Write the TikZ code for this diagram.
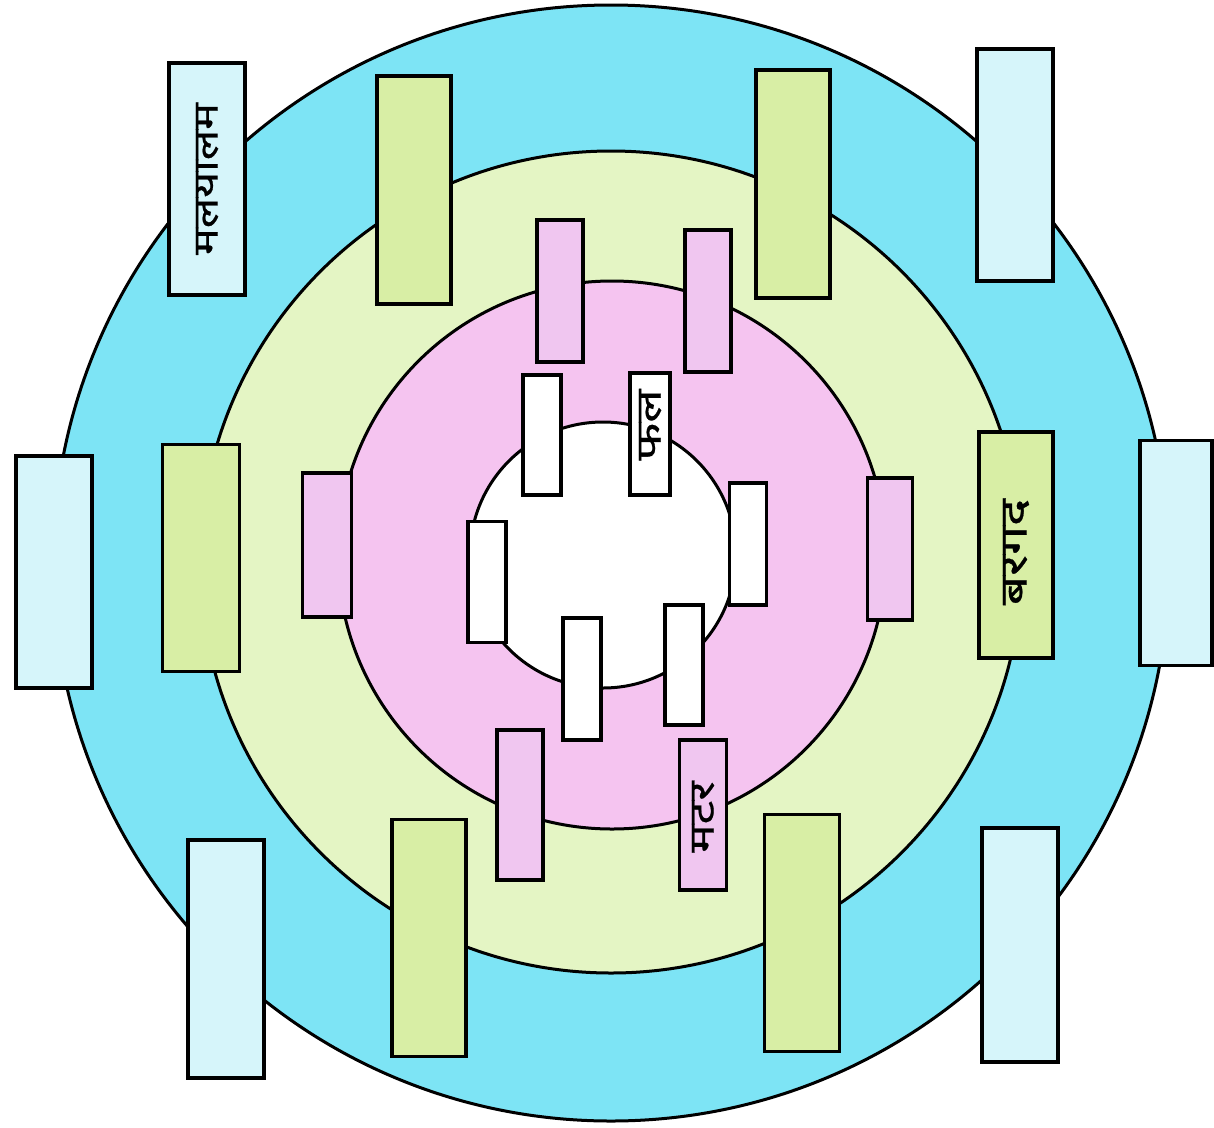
\documentclass[tikz,border=0pt]{standalone}
\usepackage{fontspec}
\newfontfamily\deva[Script=Devanagari,FakeBold=0.6]{Noto Sans}
\definecolor{ringC}{RGB}{125,228,245}
\definecolor{ringG}{RGB}{228,245,196}
\definecolor{ringP}{RGB}{245,196,240}
\definecolor{boxC}{RGB}{214,245,250}
\definecolor{boxG}{RGB}{216,238,165}
\definecolor{boxP}{RGB}{240,198,240}
\tikzset{
  ring/.style={draw=black, line width=3pt},
  tbox/.style={draw=black, line width=3.5pt, inner sep=0pt, rectangle},
  cbox/.style={tbox, fill=boxC, minimum width=76pt, minimum height=232pt},
  gbox/.style={tbox, fill=boxG, minimum width=74pt, minimum height=228pt},
  pbox/.style={tbox, fill=boxP, minimum width=46pt, minimum height=144pt},
  wbox/.style={tbox, fill=white, minimum width=38pt, minimum height=120pt},
  lbl/.style={rotate=90, inner sep=0pt, font=\deva\fontsize{35}{40}\selectfont},
}
\begin{document}
\begin{tikzpicture}[x=1pt,y=-1pt]
\useasboundingbox (0,0) rectangle (1214,1127);
\fill[white] (0,0) rectangle (1214,1127);
% rings
\draw[ring, fill=ringC] (611,563) circle [radius=558pt];
\draw[ring, fill=ringG] (611,562) circle [radius=411pt];
\draw[ring, fill=ringP] (612,555) circle [radius=274pt];
\draw[ring, fill=white] (603,555) circle [radius=133pt];
% cyan boxes
\node[cbox] (c1) at (207,179) {};
\node[cbox] (c2) at (1015,165) {};
\node[cbox] (c3) at (54,572) {};
\node[cbox, minimum width=72pt, minimum height=225pt] (c4) at (1176,553) {};
\node[cbox, minimum height=238pt] (c5) at (226,959) {};
\node[cbox, minimum height=234pt] (c6) at (1020,945) {};
% green boxes
\node[gbox] (g1) at (414,190) {};
\node[gbox] (g2) at (793,184) {};
\node[gbox, minimum width=77pt, minimum height=227pt] (g3) at (201,558) {};
\node[gbox, minimum height=226pt] (g4) at (1016,545) {};
\node[gbox, minimum height=237pt] (g5) at (429,938) {};
\node[gbox, minimum width=75pt, minimum height=237pt] (g6) at (802,933) {};
% pink boxes
\node[pbox, minimum height=142pt] (p1) at (560,291) {};
\node[pbox, minimum height=142pt] (p2) at (708,301) {};
\node[pbox, minimum width=49pt] (p3) at (327,545) {};
\node[pbox, minimum width=45pt, minimum height=142pt] (p4) at (890,549) {};
\node[pbox, minimum height=150pt] (p5) at (520,805) {};
\node[pbox, minimum width=47pt, minimum height=150pt] (p6) at (703,815) {};
% white boxes
\node[wbox] (w1) at (542,435) {};
\node[wbox, minimum width=40pt, minimum height=122pt] (w2) at (650,434) {};
\node[wbox, minimum height=121pt] (w3) at (487,582) {};
\node[wbox, minimum width=37pt, minimum height=122pt] (w4) at (748,544) {};
\node[wbox, minimum height=122pt] (w5) at (582,679) {};
\node[wbox] (w6) at (684,665) {};
% labels
\node[lbl] (t1) at (c1.center) {\scalebox{1.28}[1]{मलयालम}};
\node[lbl, font=\deva\fontsize{38}{42}\selectfont] (t2) at ([yshift=-7pt]g4.center) {\scalebox{1.35}[1]{बरगद}};
\node[lbl] (t3) at ([yshift=9pt]w2.center) {\scalebox{1.4}[1]{फल}};
\node[lbl] (t4) at ([yshift=-2pt]p6.center) {\scalebox{1.35}[1]{मटर}};
\end{tikzpicture}
\end{document}
